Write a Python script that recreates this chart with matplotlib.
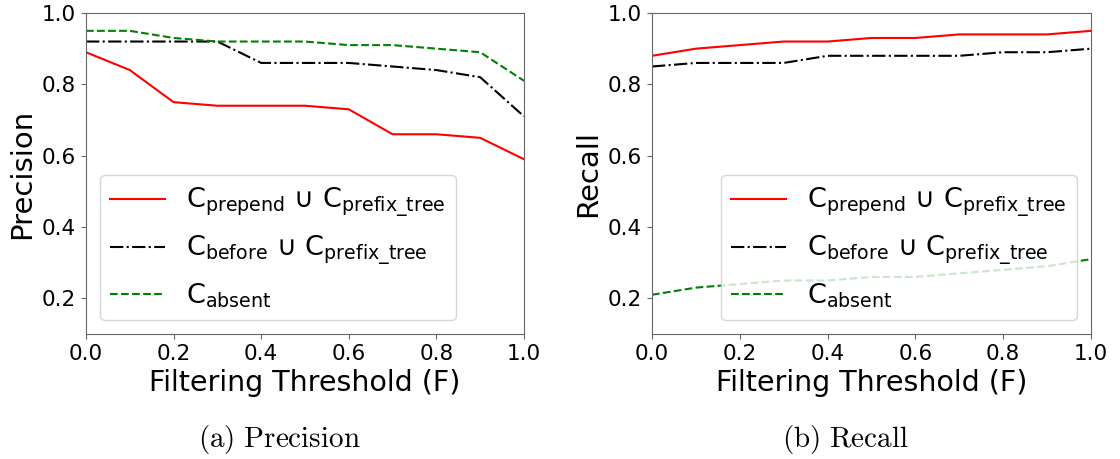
import matplotlib
matplotlib.use("Agg")
import matplotlib.pyplot as plt

plt.rcParams['mathtext.fontset'] = 'dejavusans'

thresholds = [0.0, 0.1, 0.2, 0.3, 0.4, 0.5, 0.6, 0.7, 0.8, 0.9, 1.0]

prec_prepend = [0.89, 0.84, 0.75, 0.74, 0.74, 0.74, 0.73, 0.66, 0.66, 0.65, 0.59]
prec_before = [0.92, 0.92, 0.92, 0.92, 0.86, 0.86, 0.86, 0.85, 0.84, 0.82, 0.71]
prec_absent = [0.95, 0.95, 0.93, 0.92, 0.92, 0.92, 0.91, 0.91, 0.90, 0.89, 0.81]

rec_prepend = [0.88, 0.90, 0.91, 0.92, 0.92, 0.93, 0.93, 0.94, 0.94, 0.94, 0.95]
rec_before = [0.85, 0.86, 0.86, 0.86, 0.88, 0.88, 0.88, 0.88, 0.89, 0.89, 0.90]
rec_absent = [0.21, 0.23, 0.24, 0.25, 0.25, 0.26, 0.26, 0.27, 0.28, 0.29, 0.31]

labels = [r'$\mathregular{C_{prepend}}$ ∪ $\mathregular{C_{prefix\_tree}}$',
          r'$\mathregular{C_{before}}$ ∪ $\mathregular{C_{prefix\_tree}}$',
          r'$\mathregular{C_{absent}}$']

W, H = 1120, 459
fig = plt.figure(figsize=(W / 100, H / 100), dpi=100)
ax1 = fig.add_axes([86 / W, 1 - 334 / H, 438 / W, 321 / H])
ax2 = fig.add_axes([652 / W, 1 - 334 / H, 439 / W, 321 / H])


def draw(ax, ys, ylabel, loc):
    ax.plot(thresholds, ys[0], color='red', linestyle='-', label=labels[0])
    ax.plot(thresholds, ys[1], color='black', linestyle='-.', label=labels[1])
    ax.plot(thresholds, ys[2], color='green', linestyle='--', label=labels[2])
    ax.set_xlim(0, 1)
    ax.set_ylim(0.1, 1.0)
    ax.set_yticks([0.2, 0.4, 0.6, 0.8, 1.0])
    ax.tick_params(labelsize=15.5, color='#666666')
    ax.set_xlabel('Filtering Threshold (F)', fontsize=20.5)
    ax.set_ylabel(ylabel, fontsize=21)
    for s in ax.spines.values():
        s.set_color('#666666')
    ax.legend(loc=loc, fontsize=19.5)


draw(ax1, [prec_prepend, prec_before, prec_absent], 'Precision', 'lower left')
draw(ax2, [rec_prepend, rec_before, rec_absent], 'Recall', 'lower right')

# captions in Computer Modern, like the LaTeX subfigure captions
plt.rcParams['mathtext.fontset'] = 'cm'
fig.text(279 / W, 1 - 440 / H, r'$\mathrm{(a)\ Precision}$', fontsize=21, ha='center', va='center')
fig.text(845 / W, 1 - 440 / H, r'$\mathrm{(b)\ Recall}$', fontsize=21, ha='center', va='center')

fig.savefig('out.png', dpi=100)
